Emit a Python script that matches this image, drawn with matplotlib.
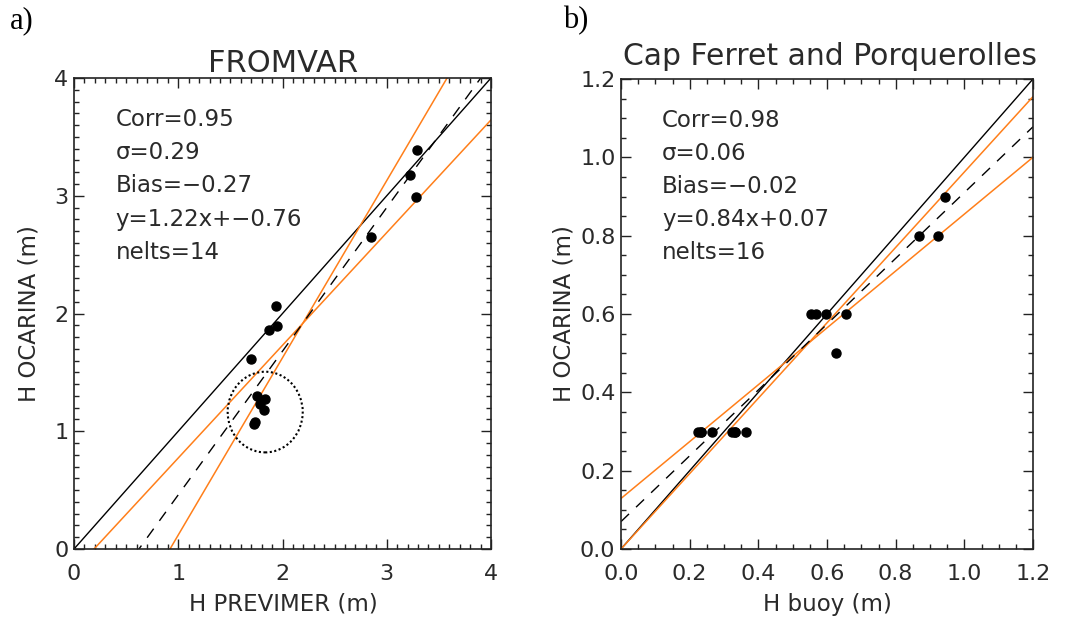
import matplotlib
matplotlib.use("Agg")
import matplotlib.pyplot as plt
from matplotlib.patches import Ellipse
from matplotlib.ticker import MultipleLocator, FormatStrFormatter
import numpy as np

# ---------------- data ----------------
left_x = [1.70, 1.87, 1.95, 1.94, 2.85, 3.225, 3.28, 3.29,
          1.755, 1.835, 1.78, 1.82, 1.74, 1.725]
left_y = [1.611, 1.860, 1.896, 2.064, 2.647, 3.176, 2.987, 3.389,
          1.302, 1.274, 1.231, 1.180, 1.076, 1.062]
left_stats = ["Corr=0.95", "\u03c3=0.29", "Bias=\u22120.27",
              "y=1.22x+\u22120.76", "nelts=14"]
left_fit = (1.22, -0.76)
left_bands = [(0.957, -0.184), (1.505, -1.386)]
left_circle = (1.834, 1.163, 0.72, 0.685)   # cx, cy, width, height

right_x = [0.945, 0.869, 0.924, 0.553, 0.568, 0.596, 0.655, 0.626,
           0.223, 0.233, 0.233, 0.266, 0.323, 0.333, 0.333, 0.363]
right_y = [0.90, 0.80, 0.80, 0.60, 0.60, 0.60, 0.60, 0.50,
           0.30, 0.30, 0.30, 0.30, 0.30, 0.30, 0.30, 0.30]
right_stats = ["Corr=0.98", "\u03c3=0.06", "Bias=\u22120.02",
               "y=0.84x+0.07", "nelts=16"]
right_fit = (0.84, 0.07)
right_bands = [(0.9625, 0.0), (0.726, 0.129)]

ORANGE = "#ff7f1a"
TXT = "#2a2a2a"

W, H = 1067, 621
fig = plt.figure(figsize=(W / 100, H / 100), dpi=100)
plt.rcParams['font.family'] = ['DejaVu Sans']


def px_axes(l, r, t, b):
    return fig.add_axes([l / W, 1 - b / H, (r - l) / W, (b - t) / H])


def style(ax, lim, major, minor, fmt):
    ax.set_xlim(0, lim)
    ax.set_ylim(0, lim)
    ax.xaxis.set_major_locator(MultipleLocator(major))
    ax.yaxis.set_major_locator(MultipleLocator(major))
    ax.xaxis.set_minor_locator(MultipleLocator(minor))
    ax.yaxis.set_minor_locator(MultipleLocator(minor))
    ax.xaxis.set_major_formatter(FormatStrFormatter(fmt))
    ax.yaxis.set_major_formatter(FormatStrFormatter(fmt))
    ax.tick_params(which='both', direction='in', top=True, right=True,
                   color='#222222', width=1.0)
    ax.tick_params(which='major', length=7)
    ax.tick_params(which='minor', length=3.5)
    ax.tick_params(axis='x', which='major', labelsize=16, pad=11,
                   labelcolor=TXT)
    ax.tick_params(axis='y', which='major', labelsize=16, pad=4,
                   labelcolor=TXT)
    for s in ax.spines.values():
        s.set_linewidth(1.2)
        s.set_color('#222222')


def draw(ax, xs, ys, lim, fit, bands, stats):
    xx = np.array([0, lim])
    ax.plot(xx, xx, color='black', lw=1.0, zorder=2)
    for sl, ic in bands:
        ax.plot(xx, sl * xx + ic, color=ORANGE, lw=1.1, zorder=2)
    ax.plot(xx, fit[0] * xx + fit[1], color='black', lw=1.0,
            dashes=(8, 7), zorder=2)
    ax.plot(xs, ys, 'o', color='black', ms=6.5, zorder=3)
    for i, s in enumerate(stats):
        ax.text(0.1, 0.912 - i * 0.0705, s, transform=ax.transAxes,
                fontsize=16.5, color=TXT, va='center', ha='left')


# ---------- panel a ----------
axa = px_axes(74, 491, 78, 549)
style(axa, 4, 1, 0.1, '%d')
draw(axa, left_x, left_y, 4, left_fit, left_bands, left_stats)
cx, cy, cw, ch = left_circle
axa.add_patch(Ellipse((cx, cy), cw, ch, fill=False, ls=(0, (1, 1.2)),
                      lw=1.5, color='black', zorder=2))

# ---------- panel b ----------
axb = px_axes(621, 1033, 79, 549)
style(axb, 1.2, 0.2, 0.05, '%.1f')
draw(axb, right_x, right_y, 1.2, right_fit, right_bands, right_stats)

# titles / labels (figure pixel coordinates)
def ftext(x, y, s, **kw):
    fig.text(x / W, 1 - y / H, s, **kw)

ftext(283, 72, "FROMVAR", fontsize=22, ha='center', va='baseline', color=TXT)
ftext(830, 65, "Cap Ferret and Porquerolles", fontsize=21.5, ha='center',
      va='baseline', color=TXT)
ftext(283, 604, "H PREVIMER (m)", fontsize=16.5, ha='center', va='center',
      color=TXT)
ftext(827, 604, "H buoy (m)", fontsize=16.5, ha='center', va='center',
      color=TXT)
ftext(29, 314, "H OCARINA (m)", fontsize=16.5, ha='center', va='center',
      rotation=90, color=TXT)
ftext(564, 314, "H OCARINA (m)", fontsize=16.5, ha='center', va='center',
      rotation=90, color=TXT)
ftext(10, 21, "a)", fontsize=22, ha='left', va='center',
      family='Liberation Serif', color='black')
ftext(563, 21, "b)", fontsize=22, ha='left', va='center',
      family='Liberation Serif', color='black')

fig.savefig("out.png", dpi=100)
